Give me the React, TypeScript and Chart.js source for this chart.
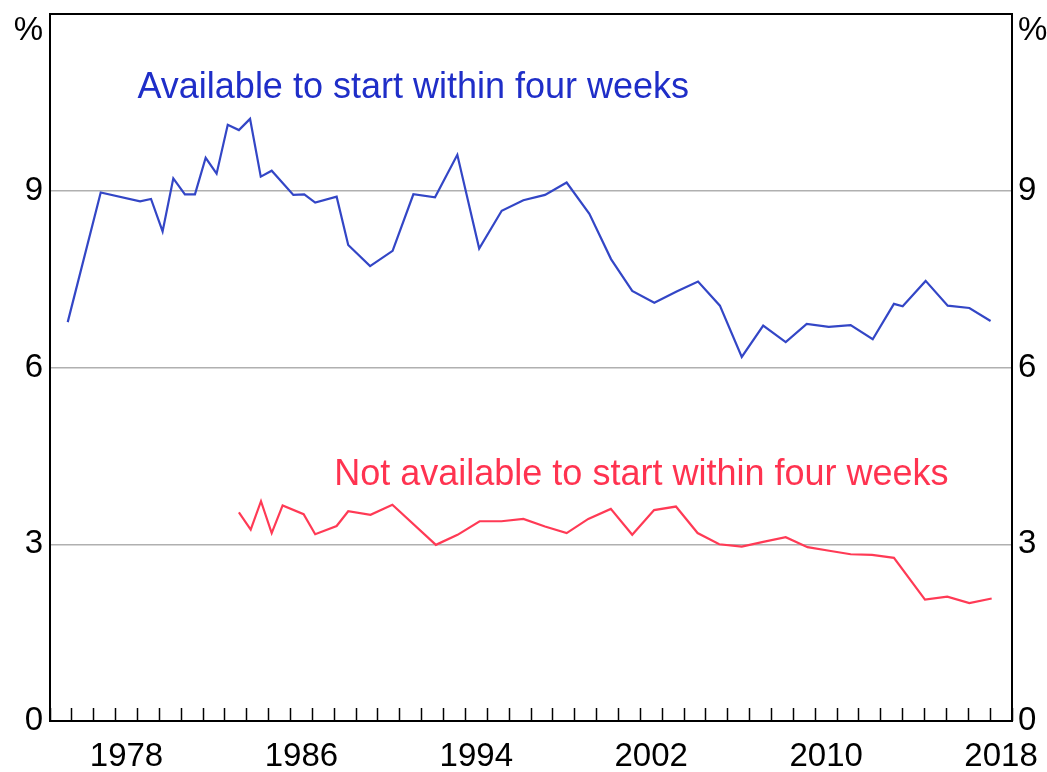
import React, { useEffect, useRef } from "react";
import { Chart, registerables } from "chart.js";

Chart.register(...registerables);

// Series: Available to start within four weeks (%)
const blueYears = [
  1975.81, 1977.32, 1979.12, 1979.62, 1980.15, 1980.64, 1981.17, 1981.63, 1982.12, 1982.62,
  1983.13, 1983.64, 1984.15, 1984.64, 1985.14, 1986.13, 1986.63, 1987.13, 1988.11, 1988.64,
  1989.64, 1990.67, 1991.62, 1992.61, 1993.63, 1994.63, 1995.66, 1996.65, 1997.64, 1998.63,
  1999.67, 2000.66, 2001.63, 2002.64, 2003.66, 2004.64, 2005.64, 2006.64, 2007.62, 2008.65,
  2009.61, 2010.62, 2011.62, 2012.63, 2013.6, 2014.0, 2015.05, 2016.06, 2017.05, 2018.02,
];
const blueValues = [
  6.77, 8.97, 8.82, 8.86, 8.31, 9.21, 8.94, 8.94, 9.56, 9.29,
  10.12, 10.03, 10.22, 9.24, 9.34, 8.93, 8.94, 8.8, 8.9, 8.08,
  7.72, 7.98, 8.94, 8.89, 9.61, 8.02, 8.66, 8.84, 8.93, 9.14,
  8.61, 7.84, 7.3, 7.1, 7.29, 7.46, 7.05, 6.18, 6.71, 6.43,
  6.74, 6.69, 6.72, 6.48, 7.08, 7.04, 7.47, 7.05, 7.01, 6.79,
];

// Series: Not available to start within four weeks (%)
const redYears = [
  1983.64, 1984.18, 1984.65, 1985.14, 1985.64, 1986.6, 1987.13, 1988.11, 1988.64, 1989.66,
  1990.66, 1992.65, 1993.64, 1994.65, 1995.65, 1996.65, 1997.64, 1998.63, 1999.62, 2000.65,
  2001.63, 2002.63, 2003.63, 2004.62, 2005.61, 2006.64, 2007.62, 2008.65, 2009.65, 2010.64,
  2011.62, 2012.6, 2013.6, 2015.02, 2016.04, 2017.05, 2018.07,
];
const redValues = [
  3.54, 3.25, 3.73, 3.19, 3.66, 3.51, 3.17, 3.31, 3.56, 3.5,
  3.67, 2.99, 3.16, 3.39, 3.39, 3.43, 3.3, 3.19, 3.43, 3.6,
  3.16, 3.58, 3.64, 3.19, 3.0, 2.96, 3.04, 3.12, 2.95, 2.89,
  2.83, 2.82, 2.77, 2.06, 2.11, 2.0, 2.08,
];

const seriesNames = [
  "Available to start within four weeks",
  "Not available to start within four weeks",
];
const seriesColors = ["#3346c6", "#ff3a55"];
const textColors = ["#1f2ec8", "#ff3350"];
// label anchor positions in data units (year, percent)
const labelYearsAnchor = [1979.0, 1988.0];
const labelValuesAnchor = [10.58, 4.01];

const xTickLabels = [1978, 1986, 1994, 2002, 2010, 2018];
const yTickValues = [0, 3, 6, 9];
const xMin = 1975;
const xMax = 2019;
const yMin = 0;
const yMax = 12;
const unitLabel = "%";

const FONT = '"Liberation Sans", Arial, Helvetica, sans-serif';

const overlayPlugin = {
  id: "overlay",
  afterDraw(chart: any) {
    const { ctx, chartArea: a, scales } = chart;
    ctx.save();
    ctx.strokeStyle = "#000";
    ctx.lineWidth = 2;
    ctx.strokeRect(a.left, a.top, a.right - a.left, a.bottom - a.top);

    ctx.fillStyle = "#000";
    ctx.font = `33px ${FONT}`;
    ctx.textBaseline = "alphabetic";
    ctx.textAlign = "right";
    ctx.fillText(unitLabel, a.left - 7, a.top + 26);
    ctx.textAlign = "left";
    ctx.fillText(unitLabel, a.right + 6, a.top + 26);

    ctx.font = `36px ${FONT}`;
    seriesNames.forEach((name, i) => {
      ctx.fillStyle = textColors[i];
      ctx.fillText(
        name,
        scales.x.getPixelForValue(labelYearsAnchor[i]),
        scales.y.getPixelForValue(labelValuesAnchor[i])
      );
    });
    ctx.restore();
  },
};

const zeroPad = (s: any) => {
  s.paddingTop = 0;
  s.paddingBottom = 0;
  s.paddingLeft = 0;
  s.paddingRight = 0;
};

export default function App() {
  const canvasRef = useRef<HTMLCanvasElement | null>(null);

  useEffect(() => {
    const canvas = canvasRef.current;
    if (!canvas) return;
    const yearTicks: number[] = [];
    for (let y = xMin; y <= xMax; y++) yearTicks.push(y);

    const chart = new Chart(canvas, {
      type: "line",
      data: {
        datasets: [
          {
            label: seriesNames[0],
            data: blueYears.map((x, i) => ({ x, y: blueValues[i] })),
            borderColor: seriesColors[0],
            borderWidth: 2.2,
            pointRadius: 0,
            tension: 0,
            fill: false,
            xAxisID: "x",
            yAxisID: "y",
          },
          {
            label: seriesNames[1],
            data: redYears.map((x, i) => ({ x, y: redValues[i] })),
            borderColor: seriesColors[1],
            borderWidth: 2.2,
            pointRadius: 0,
            tension: 0,
            fill: false,
            xAxisID: "x",
            yAxisID: "y",
          },
        ],
      },
      options: {
        animation: false,
        responsive: false,
        layout: { padding: { top: 14, left: 0, right: 0, bottom: 0 } },
        plugins: { legend: { display: false }, tooltip: { enabled: false } },
        scales: {
          x: {
            type: "linear",
            position: "bottom",
            min: xMin,
            max: xMax,
            afterBuildTicks: (s: any) => {
              s.ticks = yearTicks.map((v) => ({ value: v }));
            },
            ticks: {
              autoSkip: false,
              maxRotation: 0,
              minRotation: 0,
              labelOffset: 10.9,
              padding: 29,
              color: "#000",
              font: { family: FONT, size: 33 },
              callback: (v: any) => (xTickLabels.includes(Number(v)) ? String(v) : ""),
            },
            grid: {
              drawOnChartArea: false,
              drawTicks: true,
              tickLength: -13,
              tickColor: "#000",
              tickWidth: 1.5,
              color: "#000",
            },
            border: { display: false },
            afterFit: (s: any) => {
              s.height = 51;
              zeroPad(s);
            },
          },
          y: {
            type: "linear",
            position: "left",
            min: yMin,
            max: yMax,
            afterBuildTicks: (s: any) => {
              s.ticks = yTickValues.map((v) => ({ value: v }));
            },
            ticks: { padding: 7, color: "#000", font: { family: FONT, size: 33 } },
            grid: {
              drawTicks: false,
              lineWidth: 1.5,
              color: (c: any) => (c.tick && c.tick.value > 0 ? "#b0b0b0" : "rgba(0,0,0,0)"),
            },
            border: { display: false },
            afterFit: (s: any) => {
              s.width = 50;
              zeroPad(s);
            },
          },
          y2: {
            type: "linear",
            position: "right",
            min: yMin,
            max: yMax,
            afterBuildTicks: (s: any) => {
              s.ticks = yTickValues.map((v) => ({ value: v }));
            },
            ticks: { padding: 6, color: "#000", font: { family: FONT, size: 33 } },
            grid: { drawOnChartArea: false, drawTicks: false },
            border: { display: false },
            afterFit: (s: any) => {
              s.width = 35;
              zeroPad(s);
            },
          },
        },
      },
      plugins: [overlayPlugin],
    } as any);

    return () => chart.destroy();
  }, []);

  return (
    <div style={{ position: "absolute", left: 0, top: 0, width: 1047, height: 772, background: "#fff" }}>
      <canvas ref={canvasRef} width={1047} height={772} style={{ display: "block" }} />
    </div>
  );
}
